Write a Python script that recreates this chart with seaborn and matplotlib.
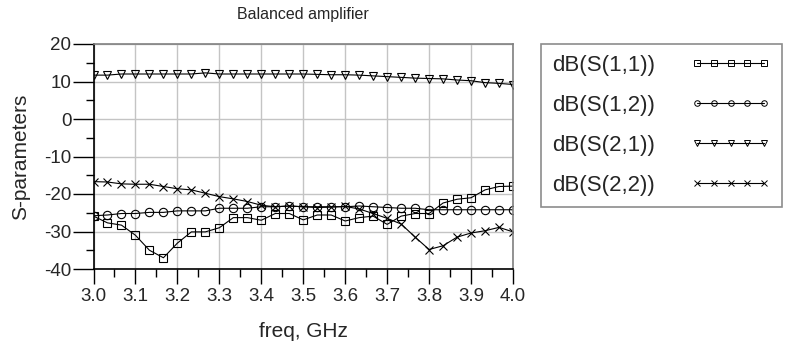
import numpy as np
import pandas as pd
import seaborn as sns
import matplotlib
matplotlib.use("Agg")
import matplotlib.pyplot as plt
from matplotlib.lines import Line2D
from matplotlib.ticker import MultipleLocator

# ---- data ----
freq = [3.0 + i / 30 for i in range(31)]
s11 = [-25.9, -27.7, -28.3, -31.0, -35.0, -37.0, -33.1, -30.1, -30.1, -29.0,
       -26.3, -26.3, -27.0, -25.2, -25.2, -26.9, -25.6, -25.6, -27.2, -26.3,
       -25.9, -28.1, -25.9, -25.2, -25.2, -22.4, -21.4, -21.0, -18.9, -18.0, -17.9]
s12 = [-25.8, -25.6, -25.2, -25.2, -24.9, -24.9, -24.5, -24.5, -24.5, -23.8,
       -23.8, -23.8, -23.4, -23.4, -23.2, -23.4, -23.4, -23.4, -23.4, -23.2,
       -23.4, -23.6, -23.8, -23.8, -24.2, -24.2, -24.2, -24.2, -24.2, -24.2, -24.2]
s21 = [11.7, 11.7, 12.0, 12.0, 12.0, 12.0, 12.0, 12.0, 12.3, 12.0,
       12.0, 12.0, 12.0, 12.0, 12.0, 12.0, 11.9, 11.8, 11.8, 11.7,
       11.5, 11.3, 11.1, 10.9, 10.8, 10.7, 10.4, 10.2, 9.7, 9.5, 9.2]
s22 = [-16.7, -16.8, -17.3, -17.4, -17.4, -18.0, -18.6, -18.9, -19.8, -20.7,
       -21.3, -22.0, -23.0, -23.4, -23.2, -23.4, -23.6, -23.5, -23.3, -24.0,
       -25.2, -26.5, -28.0, -31.5, -34.8, -33.8, -31.5, -30.4, -29.8, -28.9, -30.1]
labels = ["dB(S(1,1))", "dB(S(1,2))", "dB(S(2,1))", "dB(S(2,2))"]
markers = ["s", "o", "v", "x"]
xticks = [3.0, 3.1, 3.2, 3.3, 3.4, 3.5, 3.6, 3.7, 3.8, 3.9, 4.0]
yticks = [-40, -30, -20, -10, 0, 10, 20]

sns.set_theme(style="white")
plt.rcParams["font.family"] = ["Liberation Sans", "DejaVu Sans"]

fig = plt.figure(figsize=(7.89, 3.5), dpi=100)
ax = fig.add_axes([93.5 / 789, 1 - 269 / 350, (513 - 93.5) / 789, (269 - 44) / 350])

df = pd.DataFrame({"freq": freq * 4,
                   "val": s11 + s12 + s21 + s22,
                   "series": sum([[l] * len(freq) for l in labels], [])})

for lab, mk in zip(labels, markers):
    d = df[df["series"] == lab]
    sns.lineplot(data=d, x="freq", y="val", ax=ax, color="black", lw=0.8,
                 marker=mk, markersize=6 if mk != "v" else 5.5,
                 markerfacecolor="none", markeredgecolor="black",
                 markeredgewidth=0.8, legend=False)

ax.set_xlim(3.0, 4.0)
ax.set_ylim(-40, 20)
ax.set_xticks(xticks)
ax.set_xticklabels([f"{t:.1f}" for t in xticks])
ax.set_yticks(yticks)
ax.set_yticklabels([str(t) for t in yticks])
ax.xaxis.set_minor_locator(MultipleLocator(0.05))
ax.yaxis.set_minor_locator(MultipleLocator(5))
ax.grid(True, which="major", color="#c4c4c4", lw=1.0)
ax.tick_params(axis="both", which="major", direction="out", length=11, width=1,
               color="black", labelsize=13.5, left=True, bottom=True)
ax.tick_params(axis="x", which="major", pad=3)
ax.tick_params(axis="y", which="major", length=15, pad=1)
ax.tick_params(axis="both", which="minor", direction="out", length=6, width=1,
               color="black", left=True, bottom=True)
for s in ["top", "right"]:
    ax.spines[s].set_color("#808080")
    ax.spines[s].set_linewidth(1.2)
for s in ["left", "bottom"]:
    ax.spines[s].set_color("black")
    ax.spines[s].set_linewidth(1.2)

ax.set_title("Balanced amplifier", fontsize=11.5, pad=18)
ax.set_xlabel("freq, GHz", fontsize=15, labelpad=12)
ax.set_ylabel("S-parameters", fontsize=15, labelpad=10)

handles = [Line2D([0], [0], color="black", lw=0.8, marker=mk, markersize=4,
                  markerfacecolor="none", markeredgecolor="black",
                  markeredgewidth=0.7) for mk in markers]
leg = fig.legend(handles, labels, loc="upper left",
                 bbox_to_anchor=(541 / 789, 1 - 44 / 350),
                 bbox_transform=fig.transFigure, markerfirst=False,
                 numpoints=5, handlelength=3.6, handletextpad=1.6,
                 labelspacing=0.85, borderpad=0.5, fontsize=16,
                 frameon=True, fancybox=False, borderaxespad=0)
leg.get_frame().set_edgecolor("#707070")
leg.get_frame().set_linewidth(1.2)

fig.savefig("out.png", dpi=100)
